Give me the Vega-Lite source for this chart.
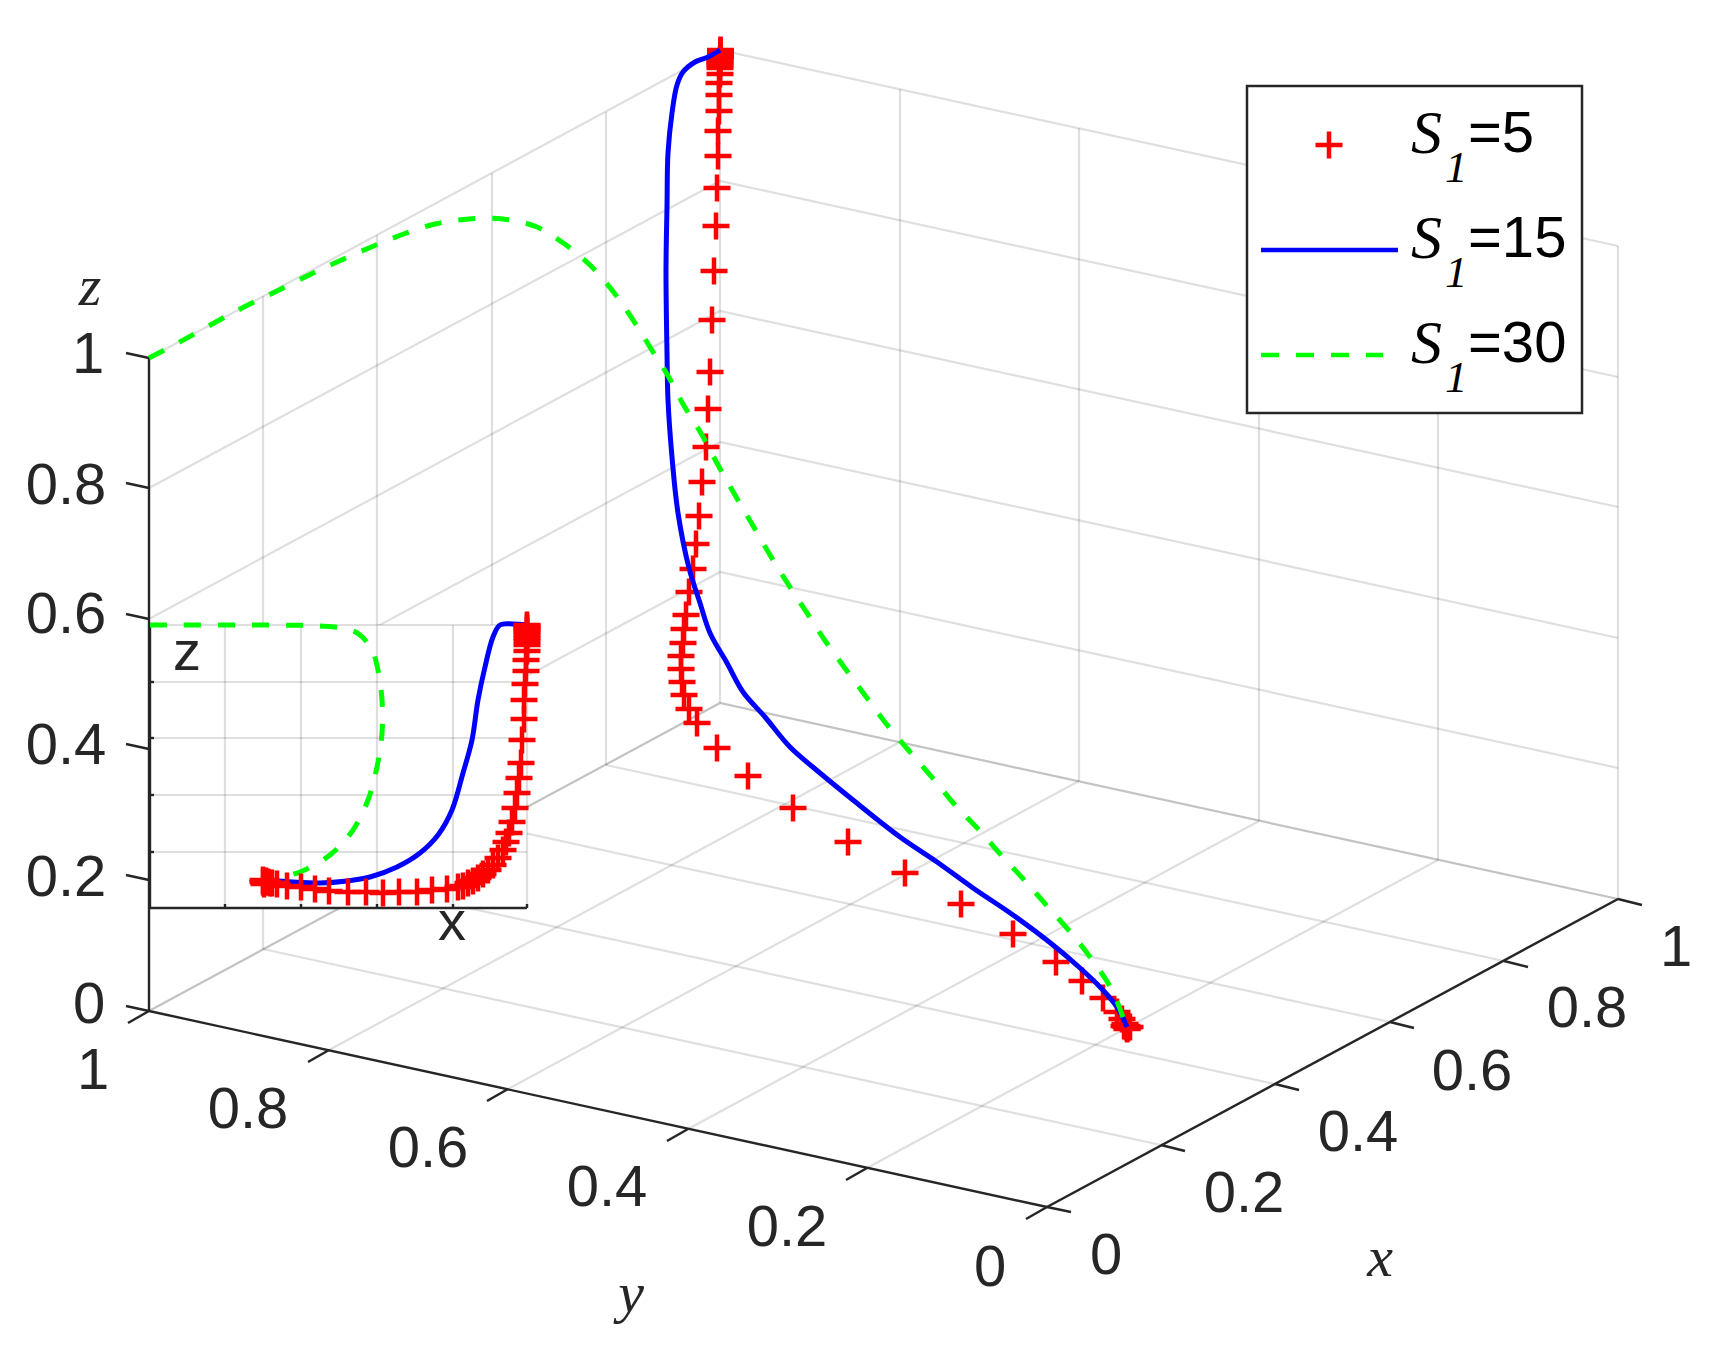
{
"$schema":"https://vega.github.io/schema/vega-lite/v6.json",
"width":1723,"height":1354,"padding":0,
"autosize":{"type":"fit","contains":"padding"},
"background":"white",
"config":{"view":{"stroke":null}},
"datasets":{
"grid3d":[
{"id":"z0","u":149,"v":1011},{"id":"z0","u":720,"v":703},{"id":"z0","u":1618,"v":899},
{"id":"z1","u":149,"v":880},{"id":"z1","u":720,"v":572},{"id":"z1","u":1618,"v":768},
{"id":"z2","u":149,"v":749},{"id":"z2","u":720,"v":442},{"id":"z2","u":1618,"v":638},
{"id":"z3","u":149,"v":619},{"id":"z3","u":720,"v":311},{"id":"z3","u":1618,"v":507},
{"id":"z4","u":149,"v":488},{"id":"z4","u":720,"v":181},{"id":"z4","u":1618,"v":377},
{"id":"z5","u":149,"v":358},{"id":"z5","u":720,"v":50},{"id":"z5","u":1618,"v":246},
{"id":"a1","u":263,"v":949},{"id":"a1","u":263,"v":296},
{"id":"a2","u":377,"v":888},{"id":"a2","u":377,"v":235},
{"id":"a3","u":492,"v":826},{"id":"a3","u":492,"v":173},
{"id":"a4","u":606,"v":765},{"id":"a4","u":606,"v":112},
{"id":"a5","u":720,"v":703},{"id":"a5","u":720,"v":50},
{"id":"b1","u":900,"v":742},{"id":"b1","u":900,"v":89},
{"id":"b2","u":1079,"v":781},{"id":"b2","u":1079,"v":128},
{"id":"b3","u":1259,"v":821},{"id":"b3","u":1259,"v":168},
{"id":"b4","u":1438,"v":860},{"id":"b4","u":1438,"v":207},
{"id":"b5","u":1618,"v":899},{"id":"b5","u":1618,"v":246},
{"id":"fx1","u":263,"v":949},{"id":"fx1","u":1161,"v":1145},
{"id":"fx2","u":377,"v":888},{"id":"fx2","u":1275,"v":1084},
{"id":"fx3","u":492,"v":826},{"id":"fx3","u":1390,"v":1022},
{"id":"fx4","u":606,"v":765},{"id":"fx4","u":1504,"v":961},
{"id":"fx5","u":720,"v":703},{"id":"fx5","u":1618,"v":899},
{"id":"fy1","u":900,"v":742},{"id":"fy1","u":329,"v":1050},
{"id":"fy2","u":1079,"v":781},{"id":"fy2","u":508,"v":1089},
{"id":"fy3","u":1259,"v":821},{"id":"fy3","u":688,"v":1129},
{"id":"fy4","u":1438,"v":860},{"id":"fy4","u":867,"v":1168},
{"id":"fy5","u":1618,"v":899},{"id":"fy5","u":1047,"v":1207},
{"id":"fy6","u":720,"v":703},{"id":"fy6","u":149,"v":1011}
],
"axis3d":[
{"id":"za","u":149,"v":358},{"id":"za","u":149,"v":1011},
{"id":"ya","u":149,"v":1011},{"id":"ya","u":1047,"v":1207},
{"id":"xa","u":1047,"v":1207},{"id":"xa","u":1618,"v":899},
{"id":"zt0","u":149,"v":1011},{"id":"zt0","u":126,"v":1006},
{"id":"zt1","u":149,"v":880},{"id":"zt1","u":126,"v":875},
{"id":"zt2","u":149,"v":749},{"id":"zt2","u":126,"v":744},
{"id":"zt3","u":149,"v":619},{"id":"zt3","u":126,"v":614},
{"id":"zt4","u":149,"v":488},{"id":"zt4","u":126,"v":483},
{"id":"zt5","u":149,"v":358},{"id":"zt5","u":126,"v":353},
{"id":"yt0","u":149,"v":1011},{"id":"yt0","u":128,"v":1023},
{"id":"yt1","u":329,"v":1050},{"id":"yt1","u":308,"v":1062},
{"id":"yt2","u":508,"v":1089},{"id":"yt2","u":487,"v":1101},
{"id":"yt3","u":688,"v":1129},{"id":"yt3","u":667,"v":1141},
{"id":"yt4","u":867,"v":1168},{"id":"yt4","u":846,"v":1180},
{"id":"yt5","u":1047,"v":1207},{"id":"yt5","u":1026,"v":1219},
{"id":"xt0","u":1047,"v":1207},{"id":"xt0","u":1071,"v":1212},
{"id":"xt1","u":1161,"v":1145},{"id":"xt1","u":1185,"v":1151},
{"id":"xt2","u":1275,"v":1084},{"id":"xt2","u":1299,"v":1090},
{"id":"xt3","u":1390,"v":1022},{"id":"xt3","u":1414,"v":1028},
{"id":"xt4","u":1504,"v":961},{"id":"xt4","u":1528,"v":967},
{"id":"xt5","u":1618,"v":899},{"id":"xt5","u":1642,"v":905}
],
"boxes":[
{"name":"inset","u":150,"u2":527,"v":625,"v2":908},
{"name":"legend","u":1247,"u2":1582,"v":86,"v2":413}
],
"insetGrid":[
{"id":"v1","u":225,"v":625},{"id":"v1","u":225,"v":908},
{"id":"v2","u":301,"v":625},{"id":"v2","u":301,"v":908},
{"id":"v3","u":377,"v":625},{"id":"v3","u":377,"v":908},
{"id":"v4","u":453,"v":625},{"id":"v4","u":453,"v":908},
{"id":"v5","u":527,"v":625},{"id":"v5","u":527,"v":908},
{"id":"h1","u":150,"v":625},{"id":"h1","u":527,"v":625},
{"id":"h2","u":150,"v":682},{"id":"h2","u":527,"v":682},
{"id":"h3","u":150,"v":738},{"id":"h3","u":527,"v":738},
{"id":"h4","u":150,"v":795},{"id":"h4","u":527,"v":795},
{"id":"h5","u":150,"v":852},{"id":"h5","u":527,"v":852}
],
"insetAxis":[
{"id":"a","u":150,"v":625},{"id":"a","u":150,"v":908},{"id":"a","u":527,"v":908},
{"id":"t1","u":225,"v":908},{"id":"t1","u":225,"v":904},
{"id":"t2","u":301,"v":908},{"id":"t2","u":301,"v":904},
{"id":"t3","u":377,"v":908},{"id":"t3","u":377,"v":904},
{"id":"t4","u":453,"v":908},{"id":"t4","u":453,"v":904},
{"id":"t5","u":527,"v":908},{"id":"t5","u":527,"v":904},
{"id":"s1","u":150,"v":682},{"id":"s1","u":154,"v":682},
{"id":"s2","u":150,"v":738},{"id":"s2","u":154,"v":738},
{"id":"s3","u":150,"v":795},{"id":"s3","u":154,"v":795},
{"id":"s4","u":150,"v":852},{"id":"s4","u":154,"v":852}
],
"labels":[
{"kind":"tick","t":"1","u":88,"v":354},{"kind":"tick","t":"0.8","u":66,"v":485},{"kind":"tick","t":"0.6","u":66,"v":614},{"kind":"tick","t":"0.4","u":66,"v":745},{"kind":"tick","t":"0.2","u":66,"v":877},{"kind":"tick","t":"0","u":89,"v":1004},
{"kind":"tick","t":"1","u":93,"v":1070},{"kind":"tick","t":"0.8","u":248,"v":1109},{"kind":"tick","t":"0.6","u":428,"v":1148},{"kind":"tick","t":"0.4","u":607,"v":1187},{"kind":"tick","t":"0.2","u":787,"v":1227},{"kind":"tick","t":"0","u":990,"v":1267},
{"kind":"tick","t":"0","u":1106,"v":1255},{"kind":"tick","t":"0.2","u":1244,"v":1193},{"kind":"tick","t":"0.4","u":1358,"v":1132},{"kind":"tick","t":"0.6","u":1472,"v":1071},{"kind":"tick","t":"0.8","u":1587,"v":1008},{"kind":"tick","t":"1","u":1676,"v":947},
{"kind":"title","t":"z","u":90,"v":288},{"kind":"title","t":"y","u":631,"v":1295},{"kind":"title","t":"x","u":1380,"v":1259},
{"kind":"inset","t":"z","u":187,"v":653},{"kind":"inset","t":"x","u":452,"v":923}
],
"legendText":[
{"kind":"S","t":"S","u":1411,"v":153},{"kind":"sub","t":"1","u":1445,"v":182},{"kind":"eq","t":"=5","u":1468,"v":152},
{"kind":"S","t":"S","u":1411,"v":258},{"kind":"sub","t":"1","u":1445,"v":287},{"kind":"eq","t":"=15","u":1468,"v":257},
{"kind":"S","t":"S","u":1411,"v":363},{"kind":"sub","t":"1","u":1445,"v":392},{"kind":"eq","t":"=30","u":1468,"v":362}
],
"red":[
{"set":"main","u":720.5,"v":50},{"set":"main","u":720.5,"v":51},{"set":"main","u":720.5,"v":52},{"set":"main","u":720.5,"v":53},{"set":"main","u":720.5,"v":55},{"set":"main","u":720.5,"v":57},{"set":"main","u":720,"v":59},{"set":"main","u":720,"v":61},{"set":"main","u":720,"v":63},{"set":"main","u":720,"v":65},{"set":"main","u":720,"v":68},{"set":"main","u":720,"v":74},{"set":"main","u":719,"v":83},{"set":"main","u":719,"v":95},{"set":"main","u":719,"v":111},{"set":"main","u":718,"v":131},{"set":"main","u":718,"v":156},{"set":"main","u":717,"v":188},{"set":"main","u":716,"v":226},{"set":"main","u":714,"v":271},{"set":"main","u":712,"v":320},{"set":"main","u":710,"v":372},{"set":"main","u":708,"v":409},{"set":"main","u":706,"v":447},{"set":"main","u":702,"v":482},{"set":"main","u":699,"v":516},{"set":"main","u":696,"v":544},{"set":"main","u":693,"v":569},{"set":"main","u":689,"v":592},{"set":"main","u":686,"v":615},{"set":"main","u":684,"v":629},{"set":"main","u":683,"v":643},{"set":"main","u":681,"v":656},{"set":"main","u":681,"v":669},{"set":"main","u":682,"v":682},{"set":"main","u":684,"v":695},{"set":"main","u":689,"v":709},{"set":"main","u":697,"v":723},{"set":"main","u":717,"v":748},{"set":"main","u":748,"v":776},{"set":"main","u":793,"v":808},{"set":"main","u":848,"v":842},{"set":"main","u":905,"v":873},{"set":"main","u":961,"v":904},{"set":"main","u":1013,"v":934},{"set":"main","u":1056,"v":962},{"set":"main","u":1082,"v":981},{"set":"main","u":1103,"v":998},{"set":"main","u":1117,"v":1012},{"set":"main","u":1122,"v":1019},{"set":"main","u":1125,"v":1024},{"set":"main","u":1127,"v":1026},{"set":"main","u":1126,"v":1027},{"set":"main","u":1128,"v":1028},{"set":"main","u":1124,"v":1026},{"set":"main","u":1130,"v":1027},{"set":"main","u":1127,"v":1029},
{"set":"inset","u":527,"v":625},{"set":"inset","u":527,"v":626},{"set":"inset","u":527,"v":628},{"set":"inset","u":527,"v":630},{"set":"inset","u":527,"v":632},{"set":"inset","u":527,"v":635},{"set":"inset","u":527,"v":638},{"set":"inset","u":527,"v":641},{"set":"inset","u":527,"v":645},{"set":"inset","u":527,"v":651},{"set":"inset","u":526,"v":660},{"set":"inset","u":526,"v":671},{"set":"inset","u":525,"v":684},{"set":"inset","u":524,"v":700},{"set":"inset","u":524,"v":719},{"set":"inset","u":522,"v":740},{"set":"inset","u":521,"v":763},{"set":"inset","u":519,"v":778},{"set":"inset","u":517,"v":793},{"set":"inset","u":515,"v":808},{"set":"inset","u":512,"v":822},{"set":"inset","u":509,"v":833},{"set":"inset","u":506,"v":842},{"set":"inset","u":503,"v":850},{"set":"inset","u":498,"v":858},{"set":"inset","u":493,"v":865},{"set":"inset","u":488,"v":870},{"set":"inset","u":483,"v":874},{"set":"inset","u":478,"v":878},{"set":"inset","u":473,"v":881},{"set":"inset","u":468,"v":883},{"set":"inset","u":463,"v":886},{"set":"inset","u":458,"v":887},{"set":"inset","u":447,"v":889},{"set":"inset","u":432,"v":890},{"set":"inset","u":417,"v":892},{"set":"inset","u":399,"v":892},{"set":"inset","u":383,"v":893},{"set":"inset","u":366,"v":892},{"set":"inset","u":348,"v":892},{"set":"inset","u":329,"v":891},{"set":"inset","u":315,"v":889},{"set":"inset","u":301,"v":887},{"set":"inset","u":287,"v":886},{"set":"inset","u":277,"v":884},{"set":"inset","u":272,"v":883},{"set":"inset","u":270,"v":883},{"set":"inset","u":268,"v":882},{"set":"inset","u":266,"v":881},{"set":"inset","u":265,"v":882},{"set":"inset","u":263,"v":882},{"set":"inset","u":263,"v":880},{"set":"inset","u":264,"v":884},
{"set":"legend","u":1329,"v":145}
],
"blue":[
{"set":"main","u":720,"v":50},{"set":"main","u":708,"v":57},{"set":"main","u":695,"v":62},{"set":"main","u":683,"v":72},{"set":"main","u":677,"v":85},{"set":"main","u":672,"v":113},{"set":"main","u":668,"v":153},{"set":"main","u":667,"v":207},{"set":"main","u":666,"v":270},{"set":"main","u":667,"v":353},{"set":"main","u":668,"v":400},{"set":"main","u":672,"v":457},{"set":"main","u":678,"v":513},{"set":"main","u":689,"v":568},{"set":"main","u":700,"v":603},{"set":"main","u":710,"v":633},{"set":"main","u":727,"v":663},{"set":"main","u":743,"v":692},{"set":"main","u":765,"v":717},{"set":"main","u":790,"v":747},{"set":"main","u":820,"v":773},{"set":"main","u":853,"v":800},{"set":"main","u":900,"v":837},{"set":"main","u":937,"v":862},{"set":"main","u":973,"v":888},{"set":"main","u":1013,"v":915},{"set":"main","u":1053,"v":945},{"set":"main","u":1080,"v":968},{"set":"main","u":1100,"v":987},{"set":"main","u":1117,"v":1007},{"set":"main","u":1127,"v":1027},
{"set":"inset","u":527,"v":625},{"set":"inset","u":513,"v":624},{"set":"inset","u":500,"v":625},{"set":"inset","u":493,"v":637},{"set":"inset","u":485,"v":667},{"set":"inset","u":478,"v":700},{"set":"inset","u":472,"v":740},{"set":"inset","u":463,"v":773},{"set":"inset","u":452,"v":810},{"set":"inset","u":438,"v":835},{"set":"inset","u":420,"v":853},{"set":"inset","u":397,"v":867},{"set":"inset","u":370,"v":877},{"set":"inset","u":347,"v":881},{"set":"inset","u":320,"v":883},{"set":"inset","u":293,"v":882},{"set":"inset","u":267,"v":880},
{"set":"legend","u":1261,"v":250},{"set":"legend","u":1398,"v":250}
],
"green":[
{"set":"main","u":149,"v":358},{"set":"main","u":178,"v":343},{"set":"main","u":214,"v":323},{"set":"main","u":244,"v":307},{"set":"main","u":275,"v":292},{"set":"main","u":307,"v":276},{"set":"main","u":337,"v":262},{"set":"main","u":369,"v":248},{"set":"main","u":401,"v":235},{"set":"main","u":435,"v":224},{"set":"main","u":469,"v":219},{"set":"main","u":503,"v":219},{"set":"main","u":537,"v":227},{"set":"main","u":566,"v":245},{"set":"main","u":581,"v":257},{"set":"main","u":593,"v":268},{"set":"main","u":615,"v":294},{"set":"main","u":635,"v":323},{"set":"main","u":653,"v":352},{"set":"main","u":667,"v":374},{"set":"main","u":683,"v":404},{"set":"main","u":702,"v":435},{"set":"main","u":718,"v":465},{"set":"main","u":735,"v":495},{"set":"main","u":752,"v":524},{"set":"main","u":770,"v":555},{"set":"main","u":788,"v":584},{"set":"main","u":807,"v":613},{"set":"main","u":826,"v":642},{"set":"main","u":847,"v":671},{"set":"main","u":867,"v":698},{"set":"main","u":888,"v":726},{"set":"main","u":910,"v":752},{"set":"main","u":936,"v":782},{"set":"main","u":955,"v":805},{"set":"main","u":979,"v":830},{"set":"main","u":1002,"v":856},{"set":"main","u":1026,"v":882},{"set":"main","u":1048,"v":907},{"set":"main","u":1071,"v":933},{"set":"main","u":1093,"v":961},{"set":"main","u":1112,"v":990},{"set":"main","u":1125,"v":1023},
{"set":"inset","u":150,"v":625},{"set":"inset","u":253,"v":625},{"set":"inset","u":320,"v":626},{"set":"inset","u":347,"v":629},{"set":"inset","u":360,"v":635},{"set":"inset","u":372,"v":650},{"set":"inset","u":378,"v":670},{"set":"inset","u":382,"v":700},{"set":"inset","u":382,"v":733},{"set":"inset","u":377,"v":767},{"set":"inset","u":368,"v":800},{"set":"inset","u":353,"v":830},{"set":"inset","u":330,"v":855},{"set":"inset","u":300,"v":872},{"set":"inset","u":277,"v":878},
{"set":"legend","u":1261,"v":355},{"set":"legend","u":1383,"v":355}
]
},
"encoding":{
"x":{"field":"u","type":"quantitative","scale":{"domain":[0,1723],"nice":false,"zero":false},"axis":null},
"y":{"field":"v","type":"quantitative","scale":{"domain":[1354,0],"nice":false,"zero":false},"axis":null}
},
"layer":[
{"data":{"name":"grid3d"},"mark":{"type":"line","stroke":"#262626","strokeOpacity":0.15,"strokeWidth":2.2},"encoding":{"detail":{"field":"id"}}},
{"data":{"name":"axis3d"},"mark":{"type":"line","stroke":"#262626","strokeWidth":2.4},"encoding":{"detail":{"field":"id"}}},
{"data":{"name":"boxes"},"transform":[{"filter":"datum.name==='inset'"}],"mark":{"type":"rect","fill":"white"},"encoding":{"x2":{"field":"u2"},"y2":{"field":"v2"}}},
{"data":{"name":"insetGrid"},"mark":{"type":"line","stroke":"#262626","strokeOpacity":0.15,"strokeWidth":2.2},"encoding":{"detail":{"field":"id"}}},
{"data":{"name":"insetAxis"},"mark":{"type":"line","stroke":"#262626","strokeWidth":2.4},"encoding":{"detail":{"field":"id"}}},
{"data":{"name":"red"},"transform":[{"filter":"datum.set==='main'"}],"mark":{"type":"point","shape":"M-1,0H1M0,-1V1","filled":false,"stroke":"#ff0000","strokeWidth":4.5,"size":729,"opacity":1}},
{"data":{"name":"blue"},"transform":[{"filter":"datum.set==='main'"},{"window":[{"op":"row_number","as":"i"}]}],"mark":{"type":"line","stroke":"#0000ff","strokeWidth":5,"interpolate":"catmull-rom"},"encoding":{"order":{"field":"i","type":"quantitative"}}},
{"data":{"name":"green"},"transform":[{"filter":"datum.set==='main'"},{"window":[{"op":"row_number","as":"i"}]}],"mark":{"type":"line","stroke":"#00ff00","strokeWidth":5,"strokeDash":[17,17],"interpolate":"catmull-rom"},"encoding":{"order":{"field":"i","type":"quantitative"}}},
{"data":{"name":"green"},"transform":[{"filter":"datum.set==='inset'"},{"window":[{"op":"row_number","as":"i"}]}],"mark":{"type":"line","stroke":"#00ff00","strokeWidth":5,"strokeDash":[17,17],"interpolate":"catmull-rom"},"encoding":{"order":{"field":"i","type":"quantitative"}}},
{"data":{"name":"blue"},"transform":[{"filter":"datum.set==='inset'"},{"window":[{"op":"row_number","as":"i"}]}],"mark":{"type":"line","stroke":"#0000ff","strokeWidth":5,"interpolate":"catmull-rom"},"encoding":{"order":{"field":"i","type":"quantitative"}}},
{"data":{"name":"red"},"transform":[{"filter":"datum.set==='inset'"}],"mark":{"type":"point","shape":"M-1,0H1M0,-1V1","filled":false,"stroke":"#ff0000","strokeWidth":4.5,"size":729,"opacity":1}},
{"data":{"name":"labels"},"transform":[{"filter":"datum.kind==='tick'"}],"mark":{"type":"text","font":"Liberation Sans","fontSize":58,"fill":"#262626","align":"center","baseline":"middle","dy":2},"encoding":{"text":{"field":"t"}}},
{"data":{"name":"labels"},"transform":[{"filter":"datum.kind==='title'"}],"mark":{"type":"text","font":"Liberation Serif","fontStyle":"italic","fontSize":58,"fill":"#262626","align":"center","baseline":"middle"},"encoding":{"text":{"field":"t"}}},
{"data":{"name":"labels"},"transform":[{"filter":"datum.kind==='inset'"}],"mark":{"type":"text","font":"Liberation Sans","fontSize":56,"fill":"#262626","align":"center","baseline":"middle"},"encoding":{"text":{"field":"t"}}},
{"data":{"name":"boxes"},"transform":[{"filter":"datum.name==='legend'"}],"mark":{"type":"rect","fill":"white","stroke":"#262626","strokeWidth":2.5},"encoding":{"x2":{"field":"u2"},"y2":{"field":"v2"}}},
{"data":{"name":"red"},"transform":[{"filter":"datum.set==='legend'"}],"mark":{"type":"point","shape":"M-1,0H1M0,-1V1","filled":false,"stroke":"#ff0000","strokeWidth":4.5,"size":729,"opacity":1}},
{"data":{"name":"blue"},"transform":[{"filter":"datum.set==='legend'"}],"mark":{"type":"line","stroke":"#0000ff","strokeWidth":4.5}},
{"data":{"name":"green"},"transform":[{"filter":"datum.set==='legend'"}],"mark":{"type":"line","stroke":"#00ff00","strokeWidth":4.5,"strokeDash":[18,17]}},
{"data":{"name":"legendText"},"transform":[{"filter":"datum.kind==='S'"}],"mark":{"type":"text","font":"Liberation Serif","fontStyle":"italic","fontSize":62,"fill":"black","align":"left","baseline":"alphabetic"},"encoding":{"text":{"field":"t"}}},
{"data":{"name":"legendText"},"transform":[{"filter":"datum.kind==='sub'"}],"mark":{"type":"text","font":"Liberation Serif","fontStyle":"italic","fontSize":45,"fill":"black","align":"left","baseline":"alphabetic"},"encoding":{"text":{"field":"t"}}},
{"data":{"name":"legendText"},"transform":[{"filter":"datum.kind==='eq'"}],"mark":{"type":"text","font":"Liberation Sans","fontSize":58,"fill":"black","align":"left","baseline":"alphabetic"},"encoding":{"text":{"field":"t"}}}
]
}
